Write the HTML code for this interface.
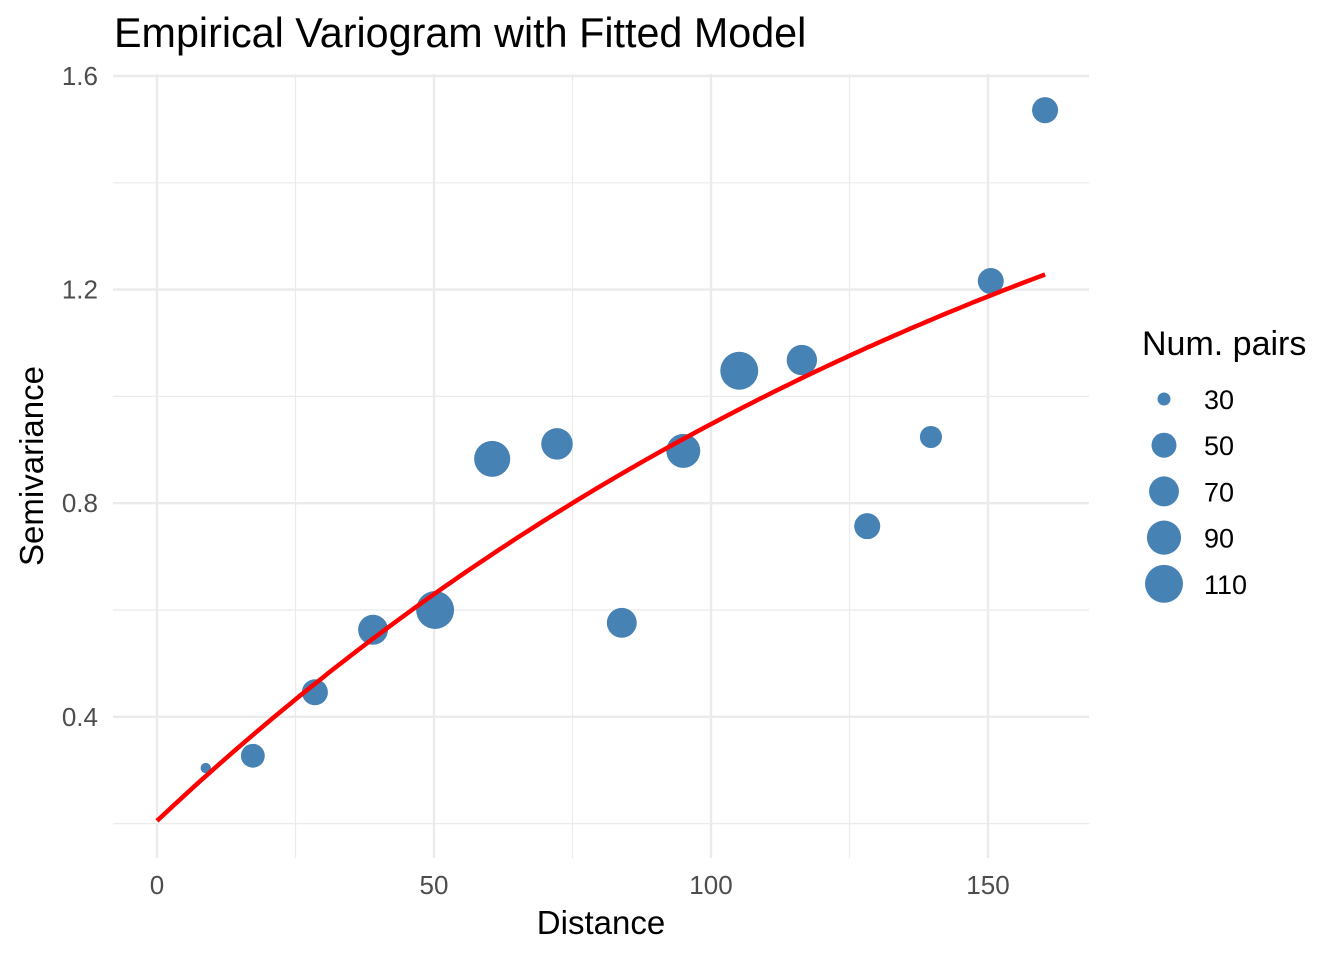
<!DOCTYPE html>
<html><head><meta charset="utf-8"><style>
body{margin:0;background:#fff;font-family:"Liberation Sans",sans-serif;}
svg text{font-family:"Liberation Sans",sans-serif;}
</style></head><body>
<svg id="chart" width="1344" height="960"></svg>
<script>
const distances=[8.8,17.3,28.5,39.0,50.2,60.5,72.2,83.9,95.0,105.1,116.4,128.2,139.7,150.5,160.3];
const gammas=[0.304,0.327,0.446,0.563,0.600,0.883,0.911,0.576,0.898,1.048,1.068,0.757,0.924,1.216,1.536];
const npairs=[12,46,54,70,110,100,77,70,89,110,72,54,40,54,54];
const modelParams=[0.205,1.70,174]; // nugget, partial sill, range
const xTicks=[0,50,100,150];
const yTicks=[0.4,0.8,1.2,1.6];
const legendValues=[30,50,70,90,110];

const NS='http://www.w3.org/2000/svg';
const svg=document.getElementById('chart');
function mk(tag,attrs,parent){const e=document.createElementNS(NS,tag);for(const k in attrs)e.setAttribute(k,attrs[k]);(parent||svg).appendChild(e);return e;}
const X=v=>157+v*5.54;
const Y=v=>76+(1.6-v)*534;
const R=n=>Math.sqrt(Math.max(20,156+(n-50)*3.4));
const L=113,Rt=1089,T=74,B=858;

const grid=mk('g',{});


for(let v=25;v<170;v+=50){const l=mk('line',{x1:X(v),x2:X(v),y1:T,y2:B,stroke:'#ebebeb','stroke-width':1.2},grid);}
for(let v=0.2;v<1.7;v+=0.4){const l=mk('line',{x1:L,x2:Rt,y1:Y(v),y2:Y(v),stroke:'#ebebeb','stroke-width':1.2},grid);}
xTicks.forEach(v=>{const l=mk('line',{x1:X(v),x2:X(v),y1:T,y2:B,stroke:'#ebebeb','stroke-width':2.4},grid);
 const t=mk('text',{x:X(v),y:894,'text-anchor':'middle','font-size':26,fill:'#4d4d4d'});t.textContent=v;});
yTicks.forEach(v=>{const l=mk('line',{x1:L,x2:Rt,y1:Y(v),y2:Y(v),stroke:'#ebebeb','stroke-width':2.4},grid);
 const t=mk('text',{x:98,y:Y(v)+9,'text-anchor':'end','font-size':26,fill:'#4d4d4d'});t.textContent=v.toFixed(1);});

const pts=mk('g',{});


distances.forEach((d,i)=>{const c=mk('circle',{cx:X(d),cy:Y(gammas[i]),r:R(npairs[i]),fill:'#4682b4'},pts);});

let dstr='';
for(let h=0;h<=160.3;h+=1){const g=modelParams[0]+modelParams[1]*(1-Math.exp(-h/modelParams[2]));dstr+=(h?'L':'M')+X(h).toFixed(1)+','+Y(g).toFixed(1);}
const h=160.3;dstr+='L'+X(h)+','+Y(modelParams[0]+modelParams[1]*(1-Math.exp(-h/modelParams[2])));
const p=mk('path',{d:dstr,fill:'none',stroke:'#ff0000','stroke-width':4.5});



let t=mk('text',{x:114,y:47,'font-size':41.3,fill:'#000'});t.textContent='Empirical Variogram with Fitted Model';


t=mk('text',{x:601,y:934,'text-anchor':'middle','font-size':33,fill:'#000'});t.textContent='Distance';


t=mk('text',{x:0,y:0,'text-anchor':'middle','font-size':33,fill:'#000',transform:'translate(43,466) rotate(-90)'});t.textContent='Semivariance';



const lg=mk('g',{});


t=mk('text',{x:1142,y:355,'font-size':34,fill:'#000'},lg);t.textContent='Num. pairs';


legendValues.forEach((v,i)=>{const cy=399+i*46.2;
 const c=mk('circle',{cx:1164,cy:cy,r:v===30?6.5:R(v),fill:'#4682b4'},lg);
 const tx=mk('text',{x:1204,y:cy+10,'font-size':27,fill:'#000'},lg);tx.textContent=v;});
</script>
</body></html>
